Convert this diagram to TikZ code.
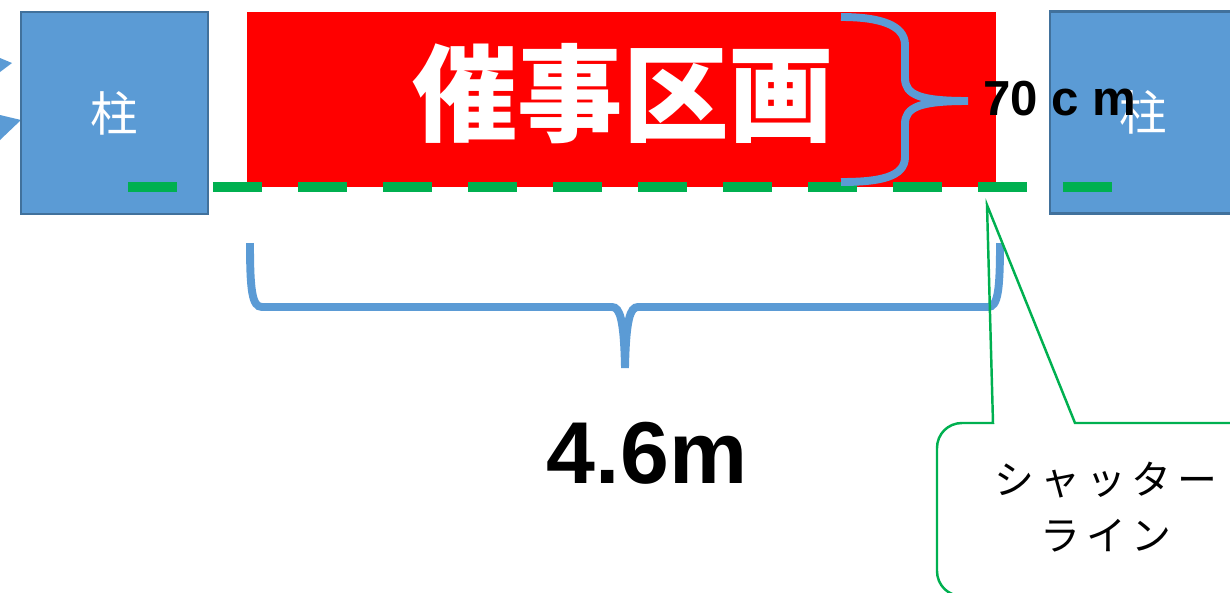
\documentclass[tikz,border=0pt]{standalone}
\usepackage{fontspec}
\usepackage{xcolor}
\newfontfamily\jpfont{Noto Sans CJK JP}
\newfontfamily\jplabel[LetterSpace=15]{Noto Sans CJK JP}
\newfontfamily\latfont{Liberation Sans}
\definecolor{pillarblue}{HTML}{5B9BD5}
\definecolor{pillaredge}{HTML}{41719C}
\definecolor{linegreen}{HTML}{00B050}

\begin{document}
\begin{tikzpicture}[x=0.02cm,y=-0.02cm,
  pillar/.style={rectangle,fill=pillarblue,draw=pillaredge,line width=1.2pt,minimum width=3.74cm,minimum height=4.04cm,text=white,font=\jpfont\fontsize{27}{27}\selectfont},
  zone/.style={rectangle,fill=red,minimum width=14.98cm,minimum height=3.5cm,inner sep=0pt},
  brace/.style={draw=pillarblue,line width=4.5pt},
  shutter/.style={draw=linegreen,line width=1.4pt}]
\useasboundingbox (0,0) rectangle (1230,592);
\clip (0,0) rectangle (1230,592);
% arrow tips coming in from the left
\fill[pillarblue] (0,58) -- (12,63) -- (0,72) -- cycle;
\fill[pillarblue] (0,115) -- (21,120) -- (0,140) -- cycle;
% pillars and event area
\draw (114.5,113) node[pillar] (pillarL) {柱};
\draw (1143.5,112.5) node[pillar] (pillarR) {柱};
\draw (621.5,99.5) node[zone] (zone) {};
\node[text=white,font=\jpfont\bfseries\fontsize{60}{60}\selectfont] (title) at (623,94) {催事区画};
% shutter line
\coordinate (lineL) at (128,187);
\coordinate (lineR) at (1113,187);
\draw[linegreen,line width=6.2pt,dash pattern=on 0.98cm off 0.72cm] (lineL) -- (lineR);
% 70cm brace
\draw[brace] (841,17) .. controls (880,17) and (905,25) .. (905,45) -- (905,78)
  .. controls (905,95) and (920,101) .. (968,101)
  .. controls (920,101) and (905,107) .. (905,124) -- (905,157)
  .. controls (905,177) and (880,182) .. (841,182);
\node[anchor=base,inner sep=0pt,font=\latfont\bfseries\fontsize{28}{28}\selectfont] (depth) at (1060,115) {70 c m};
% 4.6m brace
\draw[brace] (250,243) .. controls (250,290) and (252,307) .. (262,307) -- (612,307)
  .. controls (620,307) and (624,320) .. (625,368)
  .. controls (626,320) and (630,307) .. (638,307) -- (988,307)
  .. controls (998,307) and (1000,290) .. (1000,243);
\node[anchor=base,inner sep=0pt,font=\latfont\bfseries\fontsize{50}{50}\selectfont] (width) at (647,483) {4.6m};
% callout
\coordinate (tip) at (987,205);
\draw[shutter] (1260,423) -- (1075,423) -- (tip) -- (993,423) -- (962,423)
  .. controls (948,423) and (937,434) .. (937,448) -- (937,571)
  .. controls (937,585) and (948,596) .. (962,596) -- (1260,596);
\node[align=center,inner sep=0pt,font=\jplabel\fontsize{22.7}{31.7}\selectfont] (shutterlabel) at (1106,507) {シャッター\\ライン};
\end{tikzpicture}
\end{document}
